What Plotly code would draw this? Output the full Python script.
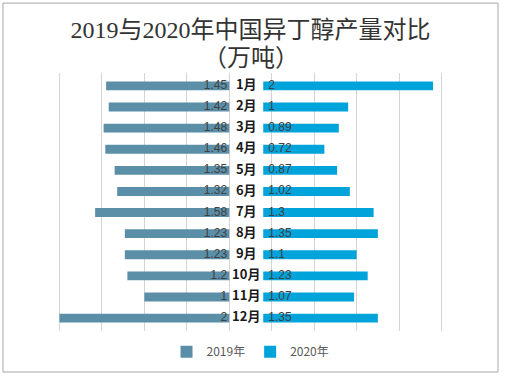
import plotly.graph_objects as go

months = ["1月", "2月", "3月", "4月", "5月", "6月", "7月", "8月", "9月", "10月", "11月", "12月"]
v2019 = [1.45, 1.42, 1.48, 1.46, 1.35, 1.32, 1.58, 1.23, 1.23, 1.2, 1, 2]
v2020 = [2, 1, 0.89, 0.72, 0.87, 1.02, 1.3, 1.35, 1.1, 1.23, 1.07, 1.35]
series_names = ["2019年", "2020年"]
title_line1 = "2019与2020年中国异丁醇产量对比"
title_line2 = "（万吨）"

GAP = 0.4  # space in the middle for month labels
c2019 = "#5B8FA8"
c2020 = "#00A3DA"

fig = go.Figure()
fig.add_trace(go.Bar(
    y=months, x=v2019, base=[-v for v in v2019], orientation="h",
    name=series_names[0], marker=dict(color=c2019, line=dict(width=0)),
    width=0.42, hoverinfo="skip"))
fig.add_trace(go.Bar(
    y=months, x=v2020, base=[GAP] * len(v2020), orientation="h",
    name=series_names[1], marker=dict(color=c2020, line=dict(width=0)),
    width=0.42, hoverinfo="skip"))

lab_font = dict(family="Liberation Sans, Noto Sans CJK SC", size=12, color="#404040")
fig.add_trace(go.Scatter(
    y=months, x=[-0.025] * len(months), mode="text", text=[str(v) for v in v2019],
    textposition="middle left", textfont=lab_font, showlegend=False, hoverinfo="skip"))
fig.add_trace(go.Scatter(
    y=months, x=[GAP + 0.06] * len(months), mode="text", text=[str(v) for v in v2020],
    textposition="middle right", textfont=lab_font, showlegend=False, hoverinfo="skip"))
fig.add_trace(go.Scatter(
    y=months, x=[GAP / 2] * len(months), mode="text", text=months,
    textposition="middle center",
    textfont=dict(family="Noto Sans CJK SC", size=13, color="#1A1A1A", weight="bold"),
    showlegend=False, hoverinfo="skip"))

title_font = dict(family="Liberation Serif, Noto Sans CJK SC", size=24, color="#333333")
fig.update_layout(
    width=505, height=377,
    margin=dict(l=17, r=21, t=73, b=46, autoexpand=False),
    paper_bgcolor="white", plot_bgcolor="white",
    barmode="overlay",
    title=dict(text=title_line1, x=0.5, xanchor="center", xref="paper",
               y=1 - 30 / 377, yanchor="middle", yref="container", font=title_font),
    annotations=[dict(text=title_line2, x=0.5, xanchor="center", xref="paper",
                      y=(331 - 58) / 258, yanchor="middle", yref="paper",
                      showarrow=False, font=title_font)],
    xaxis=dict(range=[-2.5, 3.0], dtick=0.5, tick0=0, showticklabels=False,
               showgrid=True, gridcolor="#D4D4D4", gridwidth=1, zeroline=False,
               showline=False, fixedrange=True),
    yaxis=dict(autorange="reversed", showticklabels=False, showgrid=False,
               zeroline=False, showline=False, categoryorder="array",
               categoryarray=months, fixedrange=True),
    legend=dict(orientation="h", x=0.50, xanchor="center", y=-0.08, yanchor="middle",
                font=dict(family="Noto Sans CJK SC", size=12, color="#595959"),
                itemwidth=30, traceorder="normal"),
    showlegend=True,
    shapes=[dict(type="rect", xref="paper", yref="paper",
                 x0=-0.030, x1=1.030, y0=-0.159, y1=1.271,
                 line=dict(color="#A6A6A6", width=1), fillcolor="rgba(0,0,0,0)", layer="below")],
)

fig.write_html("out.html", config={"displayModeBar": False},
               post_script="document.body.style.margin='0';document.body.style.overflow='hidden';")
